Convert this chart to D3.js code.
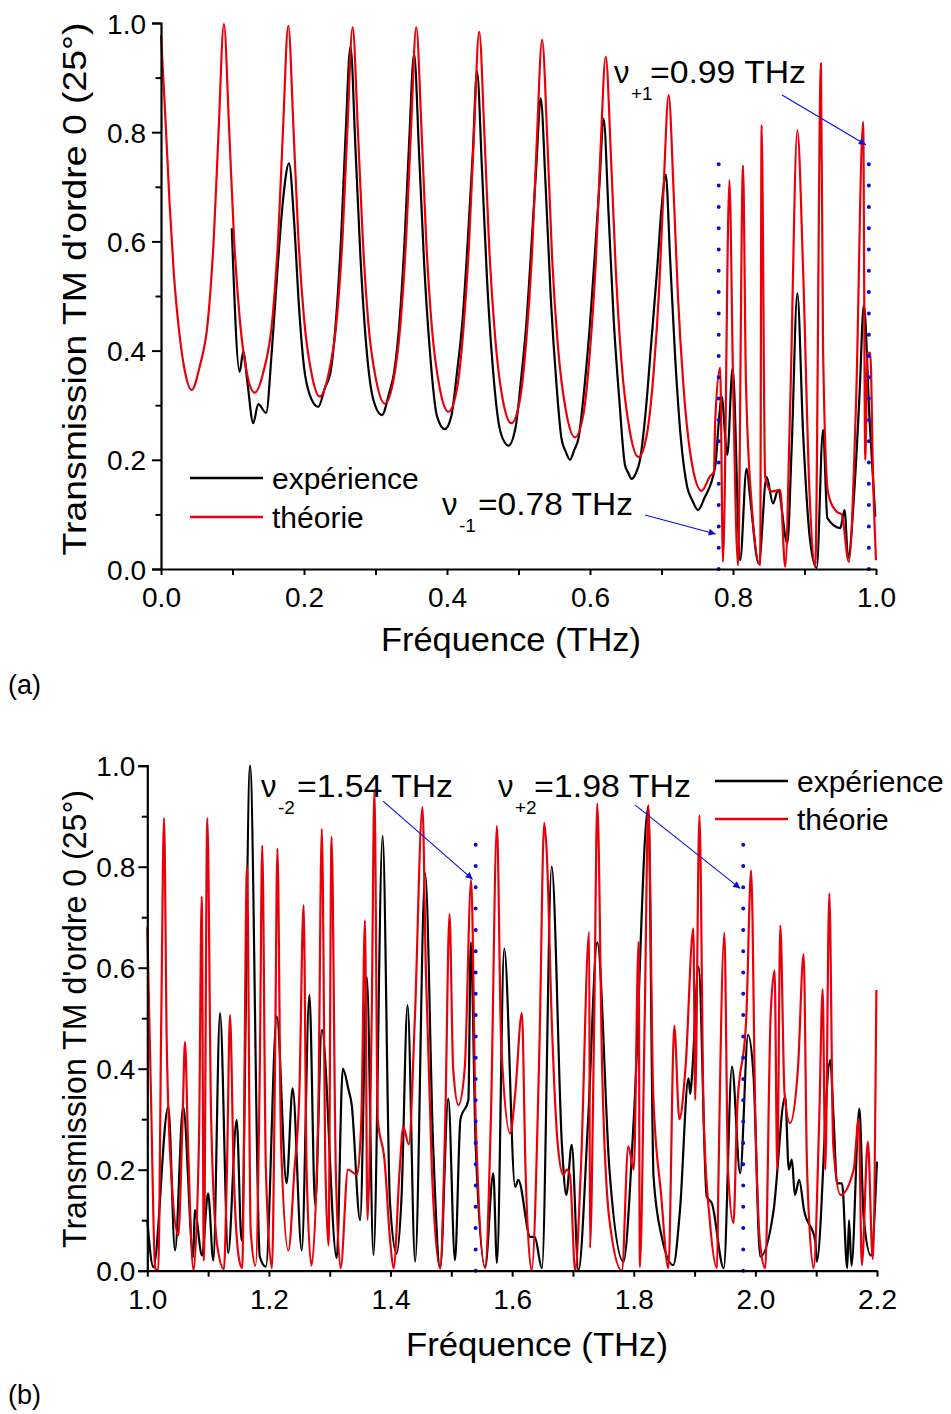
<!DOCTYPE html>
<html>
<head>
<meta charset="utf-8">
<script src="https://cdn.jsdelivr.net/npm/d3@7"></script>
<style>
  body { margin: 0; background: #fff; }
  svg { display: block; }
  text { font-family: "Liberation Sans", Arial, sans-serif; fill: #000; }
</style>
</head>
<body>
<svg id="chart" width="951" height="1414"></svg>
<script>
// ---------- data: [frequency (THz), transmission] ----------
const expA = [
  [0.099,0.624],[0.110,0.361],[0.115,0.398],[0.121,0.34],[0.129,0.267],[0.136,0.302],[0.147,0.286],
  [0.155,0.40],[0.163,0.55],[0.171,0.68],[0.179,0.743],[0.186,0.64],[0.193,0.48],[0.200,0.37],
  [0.208,0.319],[0.220,0.297],[0.229,0.331],[0.237,0.36],[0.245,0.46],[0.252,0.61],[0.258,0.79],
  [0.265,0.957],[0.272,0.77],[0.279,0.57],[0.287,0.41],[0.297,0.31],[0.309,0.282],[0.319,0.322],
  [0.326,0.36],[0.334,0.46],[0.341,0.61],[0.347,0.78],[0.354,0.943],[0.361,0.76],[0.368,0.56],
  [0.376,0.40],[0.386,0.28],[0.397,0.256],[0.406,0.28],[0.414,0.36],[0.422,0.46],[0.429,0.60],
  [0.436,0.76],[0.442,0.911],[0.449,0.73],[0.456,0.53],[0.464,0.37],[0.475,0.25],[0.486,0.226],
  [0.496,0.26],[0.503,0.34],[0.511,0.45],[0.518,0.59],[0.525,0.74],[0.531,0.862],[0.538,0.70],
  [0.545,0.50],[0.553,0.34],[0.560,0.24],[0.566,0.215],[0.572,0.20],[0.578,0.218],[0.584,0.24],
  [0.592,0.33],[0.600,0.45],[0.607,0.58],[0.613,0.70],[0.619,0.825],[0.626,0.65],[0.633,0.46],
  [0.641,0.31],[0.649,0.19],[0.654,0.175],[0.658,0.165],[0.664,0.175],[0.670,0.20],[0.678,0.29],
  [0.686,0.42],[0.694,0.55],[0.700,0.66],[0.706,0.722],[0.712,0.57],[0.719,0.39],[0.727,0.24],
  [0.736,0.15],[0.743,0.126],[0.751,0.108],[0.760,0.13],[0.775,0.187],[0.780,0.267],[0.784,0.316],
  [0.792,0.209],[0.7995,0.368],[0.810,0.016],[0.819,0.184],[0.824,0.13],[0.836,0.01],[0.847,0.169],
  [0.856,0.12],[0.863,0.145],[0.876,0.047],[0.882,0.22],[0.890,0.505],[0.898,0.25],[0.908,0.05],
  [0.917,0.002],[0.926,0.255],[0.932,0.093],[0.950,0.075],[0.956,0.108],[0.961,0.02],[0.970,0.15],
  [0.977,0.32],[0.983,0.484],[0.991,0.273],[0.999,0.096]
];
const theoA = [
  [0.000,0.978],[0.006,0.83],[0.012,0.67],[0.018,0.54],[0.025,0.44],[0.033,0.365],[0.043,0.328],[0.054,0.37],
  [0.066,0.46],[0.074,0.61],[0.0805,0.80],[0.088,0.998],[0.0955,0.80],[0.102,0.61],[0.110,0.46],
  [0.120,0.36],[0.131,0.323],[0.143,0.36],[0.156,0.46],[0.164,0.61],[0.1705,0.80],[0.178,0.995],
  [0.1855,0.80],[0.192,0.61],[0.200,0.46],[0.211,0.355],[0.222,0.316],[0.234,0.355],[0.246,0.46],
  [0.254,0.61],[0.2605,0.80],[0.268,0.992],[0.2755,0.80],[0.282,0.61],[0.290,0.45],[0.301,0.345],
  [0.313,0.303],[0.325,0.345],[0.335,0.45],[0.343,0.61],[0.3495,0.80],[0.357,0.992],[0.3645,0.80],
  [0.371,0.60],[0.379,0.44],[0.390,0.33],[0.402,0.288],[0.414,0.33],[0.423,0.44],[0.431,0.60],
  [0.4375,0.79],[0.445,0.984],[0.4525,0.79],[0.459,0.59],[0.467,0.43],[0.478,0.31],[0.490,0.267],
  [0.502,0.31],[0.511,0.42],[0.519,0.58],[0.5255,0.78],[0.533,0.969],[0.5405,0.78],[0.547,0.57],
  [0.555,0.41],[0.567,0.285],[0.579,0.241],[0.591,0.285],[0.600,0.40],[0.608,0.56],[0.6145,0.76],
  [0.622,0.938],[0.6295,0.75],[0.636,0.55],[0.644,0.38],[0.656,0.25],[0.668,0.205],[0.680,0.25],
  [0.689,0.36],[0.697,0.52],[0.703,0.70],[0.710,0.868],[0.717,0.69],[0.723,0.50],[0.731,0.33],
  [0.743,0.19],[0.756,0.143],[0.768,0.17],[0.7734,0.178],[0.775,0.267],[0.782,0.369],[0.786,0.013],
  [0.795,0.712],[0.800,0.35],[0.807,0.007],[0.814,0.739],[0.818,0.35],[0.826,0.12],[0.838,0.007],
  [0.840,0.813],[0.845,0.169],[0.854,0.142],[0.866,0.145],[0.873,0.004],[0.880,0.30],[0.890,0.804],
  [0.898,0.55],[0.907,0.14],[0.915,0.004],[0.923,0.926],[0.926,0.40],[0.933,0.139],[0.945,0.105],
  [0.952,0.10],[0.962,0.013],[0.972,0.30],[0.982,0.819],[0.985,0.20],[0.988,0.396],[0.992,0.396],
  [0.996,0.163],[1.000,0.016]
];
const expB = [
  [1.000,0.10],[1.010,0.007],[1.0345,0.325],[1.0456,0.04],[1.059,0.325],[1.0757,0.027],[1.078,0.12],
  [1.090,0.03],[1.100,0.153],[1.1086,0.02],[1.1196,0.51],[1.133,0.035],[1.147,0.298],[1.155,0.06],
  [1.169,1.0],[1.185,0.028],[1.195,0.008],[1.213,0.503],[1.229,0.173],[1.239,0.361],[1.254,0.04],
  [1.2666,0.546],[1.276,0.13],[1.287,0.477],[1.3115,0.025],[1.3215,0.40],[1.331,0.358],[1.336,0.33],
  [1.350,0.10],[1.361,0.582],[1.372,0.031],[1.387,0.861],[1.399,0.137],[1.410,0.034],[1.418,0.143],
  [1.428,0.526],[1.4405,0.018],[1.457,0.787],[1.470,0.25],[1.4816,0.005],[1.495,0.341],[1.506,0.021],
  [1.515,0.30],[1.528,0.338],[1.532,0.65],[1.540,0.25],[1.5556,0.007],[1.569,0.193],[1.575,0.015],
  [1.587,0.638],[1.605,0.166],[1.610,0.18],[1.630,0.067],[1.637,0.067],[1.649,0.005],[1.665,0.80],
  [1.682,0.246],[1.689,0.15],[1.698,0.249],[1.709,0.0],[1.725,0.30],[1.740,0.65],[1.760,0.20],
  [1.783,0.018],[1.800,0.30],[1.824,0.92],[1.8325,0.186],[1.846,0.067],[1.865,0.011],[1.876,0.12],
  [1.890,0.381],[1.893,0.35],[1.896,0.39],[1.9066,0.602],[1.920,0.147],[1.9286,0.133],[1.948,0.005],
  [1.9615,0.404],[1.975,0.193],[1.988,0.467],[1.997,0.384],[2.008,0.028],[2.030,0.12],[2.049,0.345],
  [2.055,0.20],[2.060,0.22],[2.065,0.15],[2.072,0.18],[2.080,0.12],[2.0985,0.059],[2.101,0.018],
  [2.123,0.417],[2.1287,0.298],[2.1343,0.173],[2.1425,0.173],[2.151,0.005],[2.154,0.10],[2.158,0.01],
  [2.171,0.321],[2.178,0.107],[2.190,0.03],[2.200,0.216]
];
const theoB = [
  [1.000,0.68],[1.006,0.35],[1.013,0.005],[1.018,0.0],[1.023,0.5],[1.0275,0.896],[1.032,0.45],
  [1.040,0.18],[1.051,0.07],[1.058,0.30],[1.062,0.453],[1.067,0.25],[1.076,0.0],[1.085,0.26],
  [1.0895,0.741],[1.093,0.02],[1.0987,0.896],[1.105,0.30],[1.115,0.05],[1.126,0.003],[1.131,0.2],
  [1.136,0.506],[1.142,0.2],[1.150,0.03],[1.156,0.005],[1.164,0.80],[1.170,0.08],[1.178,0.01],
  [1.185,0.4],[1.189,0.842],[1.195,0.2],[1.205,0.005],[1.210,0.4],[1.214,0.836],[1.220,0.25],
  [1.232,0.04],[1.242,0.2],[1.250,0.35],[1.257,0.724],[1.262,0.2],[1.270,0.01],[1.281,0.3],
  [1.287,0.875],[1.293,0.2],[1.298,0.05],[1.303,0.859],[1.310,0.2],[1.318,0.005],[1.330,0.2],
  [1.345,0.19],[1.352,0.3],[1.358,0.694],[1.362,0.1],[1.369,0.5],[1.3735,0.952],[1.379,0.3],
  [1.390,0.22],[1.400,0.05],[1.405,0.005],[1.415,0.2],[1.421,0.285],[1.430,0.25],[1.440,0.5],
  [1.4525,0.918],[1.458,0.6],[1.468,0.2],[1.4816,0.005],[1.490,0.3],[1.497,0.706],[1.503,0.4],
  [1.5117,0.328],[1.522,0.4],[1.5326,0.774],[1.540,0.3],[1.5556,0.005],[1.565,0.3],[1.575,0.881],
  [1.582,0.45],[1.5968,0.272],[1.605,0.35],[1.616,0.51],[1.622,0.2],[1.632,0.0],[1.645,0.45],
  [1.6527,0.887],[1.657,0.826],[1.665,0.5],[1.675,0.25],[1.684,0.19],[1.690,0.2],[1.695,0.19],
  [1.7037,0.0],[1.713,0.2],[1.7267,0.671],[1.728,0.045],[1.735,0.5],[1.740,0.925],[1.748,0.4],
  [1.760,0.1],[1.7805,0.0],[1.791,0.246],[1.800,0.2],[1.808,0.651],[1.810,0.007],[1.818,0.5],
  [1.824,0.922],[1.832,0.35],[1.845,0.15],[1.857,0.005],[1.8666,0.485],[1.875,0.3],[1.885,0.4],
  [1.898,0.678],[1.901,0.338],[1.908,0.902],[1.915,0.3],[1.925,0.1],[1.937,0.005],[1.939,0.16],
  [1.949,0.669],[1.955,0.2],[1.964,0.094],[1.970,0.318],[1.985,0.5],[1.993,0.793],[2.000,0.3],
  [2.008,0.05],[2.0163,0.005],[2.025,0.503],[2.0316,0.595],[2.036,0.2],[2.041,0.684],[2.048,0.35],
  [2.057,0.292],[2.070,0.4],[2.0793,0.627],[2.085,0.2],[2.0958,0.005],[2.105,0.3],[2.1106,0.557],
  [2.115,0.2],[2.1216,0.747],[2.128,0.25],[2.140,0.15],[2.1616,0.2],[2.170,0.3],[2.175,0.011],
  [2.185,0.255],[2.193,0.023],[2.199,0.556]
];

// ---------- ticks ----------
const yTicks = [0,0.1,0.2,0.3,0.4,0.5,0.6,0.7,0.8,0.9,1.0];
const xTicksA = [0,0.1,0.2,0.3,0.4,0.5,0.6,0.7,0.8,0.9,1.0];
const xTicksB = [1.0,1.1,1.2,1.3,1.4,1.5,1.6,1.7,1.8,1.9,2.0,2.1,2.2];

// ---------- diffraction orders (Rayleigh anomalies) ----------
const ordersA = [
  { sub: "-1", freq: 0.78, top: 0.75 },
  { sub: "+1", freq: 0.99, top: 0.75 }
];
const ordersB = [
  { sub: "-2", freq: 1.54, top: 0.85 },
  { sub: "+2", freq: 1.98, top: 0.85 }
];

const legendLabels = ["expérience", "théorie"];
const yTitle = "Transmission TM d'ordre 0 (25°)";
const xTitle = "Fréquence (THz)";

const RED = "#e8000b", BLUE = "#0a0ae0";
const svg = d3.select("#chart");

svg.append("defs").append("marker")
  .attr("id", "arrow").attr("viewBox", "0 0 10 10")
  .attr("refX", 10).attr("refY", 5)
  .attr("markerWidth", 11).attr("markerHeight", 7)
  .attr("markerUnits", "userSpaceOnUse")
  .attr("orient", "auto")
  .append("path").attr("d", "M0,0 L10,5 L0,10 z").attr("fill", BLUE);

function drawPanel(p) {
  const x = d3.scaleLinear().domain(p.xDomain).range(p.xRange);
  const y = d3.scaleLinear().domain([0, 1]).range(p.yRange);
  const g = svg.append("g");

  const line = d3.line().x(d => x(d[0])).y(d => y(d[1])).curve(p.curve);

  // curves
  g.append("path").datum(p.exp).attr("d", line)
    .attr("fill", "none").attr("stroke", "#000").attr("stroke-width", 2.2)
    .attr("stroke-linejoin", "round");
  g.append("path").datum(p.theo).attr("d", line)
    .attr("fill", "none").attr("stroke", RED).attr("stroke-width", 2.2)
    .attr("stroke-linejoin", "round");

  // order markers (dotted) and labels with arrows
  p.orders.forEach((o, i) => {
    g.append("line")
      .attr("x1", x(o.freq)).attr("x2", x(o.freq))
      .attr("y1", y(0)).attr("y2", y(o.top))
      .attr("stroke", BLUE).attr("stroke-width", 4)
      .attr("stroke-linecap", "round").attr("stroke-dasharray", "0 21.3");
    const a = p.arrows[i];
    g.append("line")
      .attr("x1", x(a.f0)).attr("y1", y(a.v0))
      .attr("x2", x(o.freq) - 3).attr("y2", y(a.v1))
      .attr("stroke", BLUE).attr("stroke-width", 1.1)
      .attr("marker-end", "url(#arrow)");
    const t = p.notes[i];
    g.append("text").attr("x", t.x).attr("y", t.y).attr("font-size", 31).text("ν");
    g.append("text").attr("x", t.x + 17).attr("y", t.y + 17).attr("font-size", 19).text(o.sub);
    g.append("text").attr("x", t.x + 36).attr("y", t.y).attr("font-size", 31)
      .attr("textLength", t.w).attr("lengthAdjust", "spacingAndGlyphs")
      .text("=" + o.freq.toFixed(2) + " THz");
  });

  // axes
  const xAxis = g.append("g").attr("transform", `translate(0,${p.yRange[0]})`)
    .call(d3.axisBottom(x).tickValues(p.xTicks).tickSize(6).tickSizeOuter(0)
      .tickFormat(d => Math.round(d * 10) % 2 === 0 ? d.toFixed(1) : ""));
  xAxis.select(".domain").attr("stroke-width", 2.2);
  xAxis.selectAll(".tick line").attr("stroke-width", 2);
  xAxis.selectAll(".tick text").attr("font-size", 28).attr("dy", 0).attr("y", 38)
    .attr("font-family", "'Liberation Sans', Arial, sans-serif");

  const yAxis = g.append("g").attr("transform", `translate(${p.xRange[0]},0)`)
    .call(d3.axisLeft(y).tickValues(yTicks).tickSizeOuter(0)
      .tickSize(9).tickFormat(d => Math.round(d * 10) % 2 === 0 ? d.toFixed(1) : ""));
  yAxis.select(".domain").attr("stroke-width", 2.2);
  yAxis.selectAll(".tick line").attr("stroke-width", 2)
    .attr("x2", d => Math.round(d * 10) % 2 === 0 ? -9 : -5.5);
  yAxis.selectAll(".tick text").attr("font-size", 28).attr("x", p.yLabelX).attr("dy", "0.36em")
    .attr("font-family", "'Liberation Sans', Arial, sans-serif");

  // axis titles
  g.append("text")
    .attr("transform", `translate(${p.yTitle.x},${p.yTitle.y}) rotate(-90)`)
    .attr("text-anchor", "middle").attr("font-size", 34)
    .attr("textLength", p.yTitle.len).attr("lengthAdjust", "spacingAndGlyphs")
    .text(yTitle);
  g.append("text").attr("x", p.xTitle.x).attr("y", p.xTitle.y)
    .attr("text-anchor", "middle").attr("font-size", 34)
    .attr("textLength", p.xTitle.len).attr("lengthAdjust", "spacingAndGlyphs")
    .text(xTitle);

  // legend
  const L = p.legend;
  [["#000", legendLabels[0]], [RED, legendLabels[1]]].forEach(([c, label], i) => {
    const yy = L.y + i * L.dy;
    g.append("line").attr("x1", L.x).attr("x2", L.x + 73).attr("y1", yy).attr("y2", yy)
      .attr("stroke", c).attr("stroke-width", 2.4);
    g.append("text").attr("x", L.x + 82).attr("y", yy + 11).attr("font-size", 30).text(label);
  });

  // panel letter
  g.append("text").attr("x", 8).attr("y", p.letterY)
    .attr("font-family", "'DejaVu Serif', 'Liberation Serif', serif")
    .attr("font-size", 27).text(p.letter);
}

drawPanel({
  xDomain: [0, 1], xRange: [161, 876], yRange: [569, 23],
  xTicks: xTicksA, exp: expA, theo: theoA, curve: d3.curveMonotoneX,
  orders: ordersA,
  arrows: [ { f0: 0.677, v0: 0.099, v1: 0.064 }, { f0: 0.8685, v0: 0.868, v1: 0.777 } ],
  notes: [ { x: 442, y: 515, w: 155 }, { x: 614, y: 83, w: 156 } ],
  yLabelX: -15,
  yTitle: { x: 86, y: 289, len: 533 },
  xTitle: { x: 511, y: 651, len: 260 },
  legend: { x: 190, y: 478, dy: 39 },
  letter: "(a)", letterY: 694
});

drawPanel({
  xDomain: [1, 2.2], xRange: [147.3, 877], yRange: [1270.7, 765.7],
  xTicks: xTicksB, exp: expB, theo: theoB, curve: d3.curveMonotoneX,
  orders: ordersB,
  arrows: [ { f0: 1.3878, v0: 0.930, v1: 0.775 }, { f0: 1.8024, v0: 0.922, v1: 0.757 } ],
  notes: [ { x: 261, y: 797, w: 156 }, { x: 498, y: 797, w: 157 } ],
  yLabelX: -12,
  yTitle: { x: 86, y: 1019, len: 458 },
  xTitle: { x: 537, y: 1356, len: 262 },
  legend: { x: 715, y: 781, dy: 38 },
  letter: "(b)", letterY: 1404
});
</script>
</body>
</html>
